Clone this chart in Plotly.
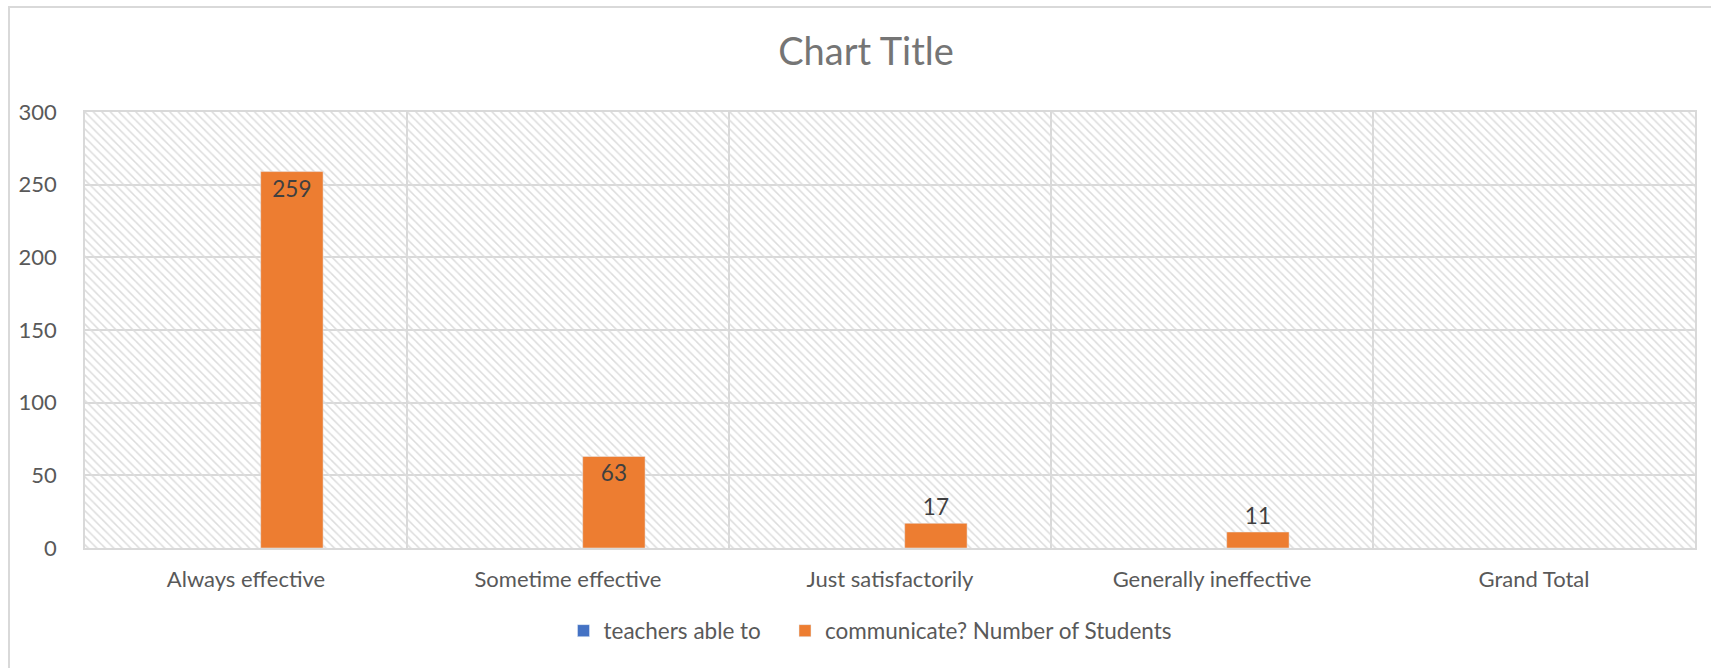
import plotly.graph_objects as go

# ---- data ----
categories = ["Always effective", "Sometime effective", "Just satisfactorily",
              "Generally ineffective", "Grand Total"]
series_names = ["teachers able to", "communicate? Number of Students"]
teachers_values = [None, None, None, None, None]
students_values = [259, 63, 17, 11, None]
y_ticks = [0, 50, 100, 150, 200, 250, 300]
chart_title = "Chart Title"

# ---- layout constants (pixels) ----
W, H = 1711, 668
L, R, T, B = 85, 16, 112, 120
plot_w = W - L - R
plot_h = H - T - B
frame_cx = 866  # centre of the chart frame (title centre)
legend_cx = [665, 981]  # centres of the two legend entries

FONT = "Lato, 'Open Sans', sans-serif"
GRID = "#d9d9d9"
TXT = "#595959"

fig = go.Figure()

# hatched plot-area background (decorative, on hidden base axes)
fig.add_trace(go.Bar(
    x=[0.5], y=[1], width=[1], xaxis="x", yaxis="y",
    marker=dict(color="rgba(0,0,0,0)", line=dict(width=0),
                pattern=dict(shape="\\", fgcolor="#dcdcdc", size=6,
                             solidity=0.25, fillmode="replace")),
    showlegend=False, hoverinfo="skip",
))

fig.add_trace(go.Bar(
    name=series_names[0], x=categories, y=teachers_values,
    xaxis="x2", yaxis="y2", marker_color="#4472C4", legend="legend",
))
fig.add_trace(go.Bar(
    name=series_names[1], x=categories, y=students_values,
    xaxis="x2", yaxis="y2", marker_color="#ED7D31", legend="legend2",
    text=students_values, texttemplate="%{y}", textposition="auto",
    insidetextanchor="end", constraintext="none",
    insidetextfont=dict(color="#404040", size=22.5, family=FONT),
    outsidetextfont=dict(color="#404040", size=22.5, family=FONT),
    cliponaxis=False,
))

legend_common = dict(orientation="h", xanchor="center",
                     y=-(631 - (H - B)) / plot_h, yanchor="middle",
                     font=dict(size=22.5, color=TXT), itemwidth=30,
                     bgcolor="rgba(0,0,0,0)")

fig.update_layout(
    width=W, height=H,
    margin=dict(l=L, r=R, t=T, b=B, autoexpand=False),
    paper_bgcolor="white", plot_bgcolor="white",
    font=dict(family=FONT, color=TXT, size=22),
    barmode="group", bargap=0.43, bargroupgap=0.32,
    title=dict(text=chart_title, x=(frame_cx - L) / plot_w, xref="paper",
               xanchor="center", y=1 - 52 / H, yref="container",
               yanchor="middle", font=dict(size=38, color="#757575", family=FONT)),
    xaxis=dict(range=[0, 1], visible=False, fixedrange=True),
    yaxis=dict(range=[0, 1], visible=False, fixedrange=True),
    xaxis2=dict(overlaying="x", type="category", tickson="boundaries",
                showgrid=True, gridcolor=GRID, gridwidth=1.5,
                showline=True, linecolor=GRID, linewidth=2, mirror=True,
                ticks="", ticklabelstandoff=11,
                tickfont=dict(size=22, color=TXT)),
    yaxis2=dict(overlaying="y", range=[0, 300], tickvals=y_ticks,
                showgrid=True, gridcolor=GRID, gridwidth=1.5,
                showline=True, linecolor=GRID, linewidth=1.5, mirror=True,
                zeroline=False, ticks="", ticklabelstandoff=22,
                tickfont=dict(size=22, color=TXT)),
    legend=dict(x=(legend_cx[0] - L) / plot_w, **legend_common),
    legend2=dict(x=(legend_cx[1] - L) / plot_w, **legend_common),
    shapes=[dict(type="rect", xref="paper", yref="paper",
                 x0=-(L - 9) / plot_w, x1=1.2, y0=-1.0, y1=(H - B - 7) / plot_h,
                 line=dict(color=GRID, width=2), fillcolor="rgba(0,0,0,0)",
                 layer="below")],
)

fig.write_html("out.html", config={"displayModeBar": False},
               post_script="document.body.style.margin='0';document.body.style.overflow='hidden';")
